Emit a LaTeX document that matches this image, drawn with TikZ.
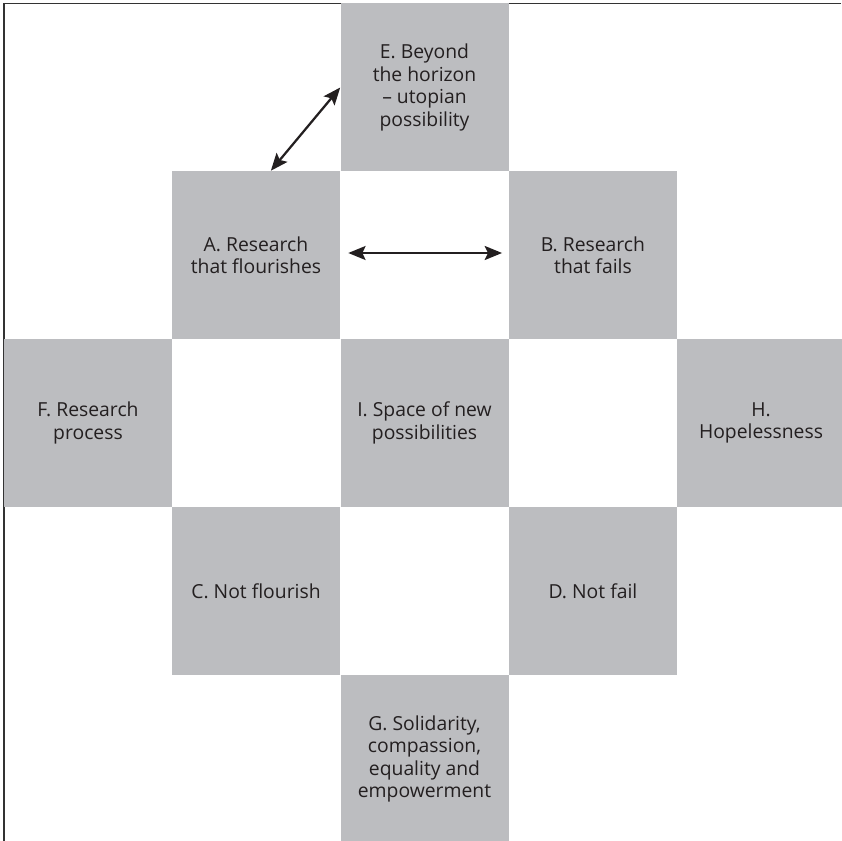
\documentclass[tikz,border=0pt]{standalone}
\usepackage{fontspec}
\setmainfont{Open Sans}
\usepackage{xcolor}
\usetikzlibrary{arrows.meta}
\definecolor{cellgray}{RGB}{188,189,192}
\definecolor{inkdark}{RGB}{35,31,32}
\tikzset{
  cell/.style={fill=cellgray, minimum width=168*0.75pt, minimum height=168*0.75pt,
    inner sep=0pt, align=center, text=inkdark, font=\fontsize{14.5}{16.8}\selectfont},
  dblarrow/.style={{Stealth[length=13pt,width=10.5pt,inset=2.5pt]}-{Stealth[length=13pt,width=10.5pt,inset=2.5pt]},
    line width=1.7pt, draw=inkdark}
}
\begin{document}
\begin{tikzpicture}[x=0.75pt,y=0.75pt,yscale=-1,xscale=1]
\useasboundingbox (0,0) rectangle (841,841);

%Frame
\draw [color=black!80, line width=1pt] (841,3.5) -- (4,3.5) -- (4,841) ;

%Cells
\node [cell] (e) at (424.5,87.5) {E. Beyond\\the horizon\\– utopian\\possibility};
\node [cell] (a) at (256,255) {A. Research\\that flourishes};
\node [cell] (b) at (593,255) {B. Research\\that fails};
\node [cell] (f) at (88,423) {F. Research\\process};
\node [cell] (i) at (424.5,423) {I. Space of new\\possibilities};
\node [cell] (h) at (761,423) {H.\\Hopelessness};
\node [cell] (c) at (256,591) {C. Not flourish};
\node [cell] (d) at (593,591) {D. Not fail};
\node [cell] (g) at (424.5,759) {G. Solidarity,\\compassion,\\equality and\\empowerment};

%Arrows
\draw [dblarrow] (a.80) -- (e.west) ;
\draw [dblarrow, shorten <=6pt, shorten >=5pt] ([yshift=-1.5pt]a.east) -- ([yshift=-1.5pt]b.west) ;

\end{tikzpicture}
\end{document}
